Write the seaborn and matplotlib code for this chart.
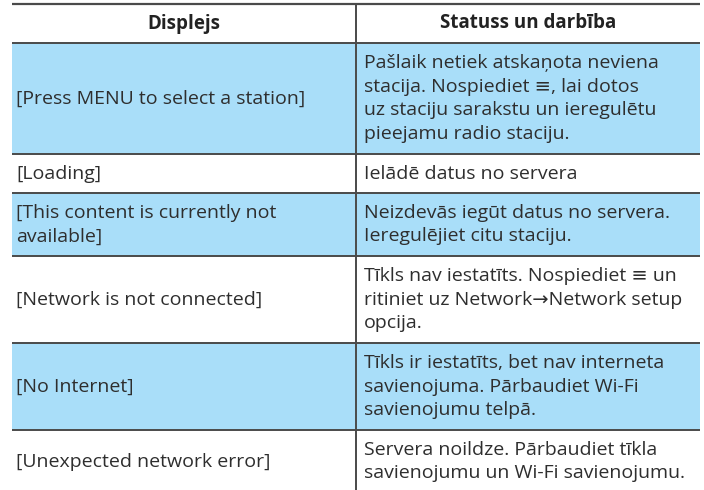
import matplotlib
matplotlib.use("Agg")
import matplotlib.pyplot as plt
import seaborn as sns

# table content
headers = ["Displejs", "Statuss un darbība"]
displays = [
    "[Press MENU to select a station]",
    "[Loading]",
    "[This content is currently not\navailable]",
    "[Network is not connected]",
    "[No Internet]",
    "[Unexpected network error]",
]
statuses = [
    "Pašlaik netiek atskaņota neviena\nstacija. Nospiediet ≡, lai dotos\nuz staciju sarakstu un ieregulētu\npieejamu radio staciju.",
    "Ielādē datus no servera",
    "Neizdevās iegūt datus no servera.\nIeregulējiet citu staciju.",
    "Tīkls nav iestatīts. Nospiediet ≡ un\nritiniet uz Network→Network setup\nopcija.",
    "Tīkls ir iestatīts, bet nav interneta\nsavienojuma. Pārbaudiet Wi-Fi\nsavienojumu telpā.",
    "Servera noildze. Pārbaudiet tīkla\nsavienojumu un Wi-Fi savienojumu.",
]
shaded = [True, False, True, False, True, False]

sns.set_theme(style="white")
plt.rcParams["font.family"] = ["Open Sans", "DejaVu Sans"]

W, H = 704, 490
BLUE = "#a9def9"
LINE = "#4a4a4a"
TXT = "#2e2e2e"
x0, xmid, x1 = 12, 356, 700
pitch, pad = 24, 15
fs = 14

fig = plt.figure(figsize=(W / 100, H / 100), dpi=100)
ax = fig.add_axes([0, 0, 1, 1])
ax.set_xlim(0, W)
ax.set_ylim(H, 0)
ax.axis("off")

# header
top = 4
head_h = pitch + pad
ax.text((x0 + xmid) / 2, top + head_h / 2, headers[0], ha="center", va="center",
        fontsize=fs - 0.5, fontweight="bold", color="#222222")
ax.text((xmid + x1) / 2, top + head_h / 2, headers[1], ha="center", va="center",
        fontsize=fs - 0.5, fontweight="bold", color="#222222")
ax.hlines(top, x0, x1, color=LINE, lw=1.6)
y = top + head_h
ax.hlines(y, x0, x1, color=LINE, lw=1.4)

for disp, stat, sh in zip(displays, statuses, shaded):
    n = max(disp.count("\n"), stat.count("\n")) + 1
    h = n * pitch + pad
    if sh:
        ax.fill_between([x0, x1], y, y + h, color=BLUE, lw=0)
    cy = y + h / 2
    ax.text(x0 + 4, cy, disp, ha="left", va="center", fontsize=fs,
            color=TXT, linespacing=1.4)
    ax.text(xmid + 8, cy, stat, ha="left", va="center", fontsize=fs,
            color=TXT, linespacing=1.4)
    y += h
    if y < H - 5:
        ax.hlines(y, x0, x1, color=LINE, lw=1.4)

ax.vlines(xmid, top, H, color=LINE, lw=1.4)

fig.savefig("out.png", dpi=100)
